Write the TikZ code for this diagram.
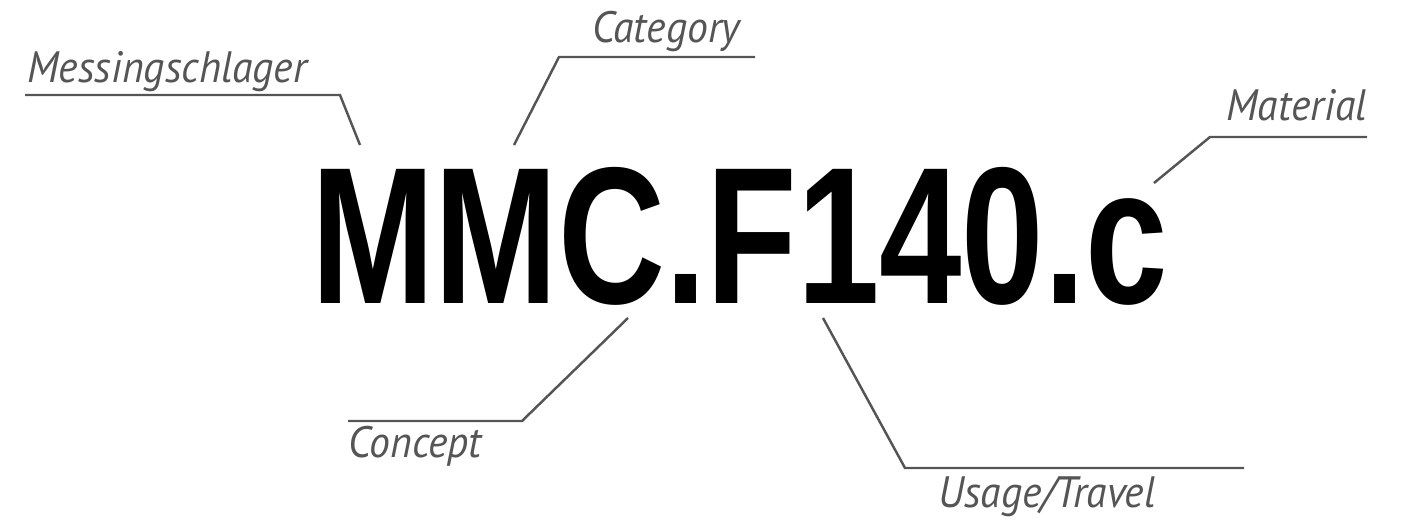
\documentclass[tikz,border=0pt]{standalone}
\usepackage{fontspec}
\setmainfont[FakeStretch=0.95]{PT Sans}
\newfontfamily\codefont[FakeStretch=0.76]{Liberation Sans}
\usetikzlibrary{positioning}
\definecolor{labelgray}{HTML}{555555}

\begin{document}
\begin{tikzpicture}[
		x=0.02cm, y=-0.02cm,
		tag/.style={inner sep=0, text=labelgray, font=\fontsize{25}{30}\selectfont\itshape},
		leader/.style={draw=labelgray, line width=1.4pt},
	]
		\useasboundingbox (0,0) rectangle (1410,521);
		\node[inner sep=0, anchor=base west, font=\codefont\fontsize{111}{120}\selectfont\bfseries] (code) at (311,303) {MMC.F140.c};
	
		\node[tag, anchor=base west] (maker) at (27,82) {Messingschlager};
		\node[tag, anchor=base west] (category) at (592,42) {Category};
		\node[tag, anchor=base east] (material) at (1367,120) {Material};
		\node[tag, anchor=base west] (concept) at (348,457) {Concept};
		\node[tag, anchor=base west] (usage) at (938,507) {Usage/Travel};
		
		% leader lines: free end at the code, bend, then underline
		\coordinate (maker-in) at (360,145);
		\coordinate (category-in) at (514,145);
		\coordinate (material-in) at (1154,183);
		\coordinate (concept-in) at (628,318);
		\coordinate (usage-in) at (823,318);
		
		\draw[leader] (maker-in) -- (340,95) -- (25,95);
		\draw[leader] (category-in) -- (559,57) -- (755,57);
		\draw[leader] (material-in) -- (1210,137) -- (1367,137);
		\draw[leader] (concept-in) -- (522,421) -- (348,421);
		\draw[leader] (usage-in) -- (905,468) -- (1244,468);
	\end{tikzpicture}
\end{document}
